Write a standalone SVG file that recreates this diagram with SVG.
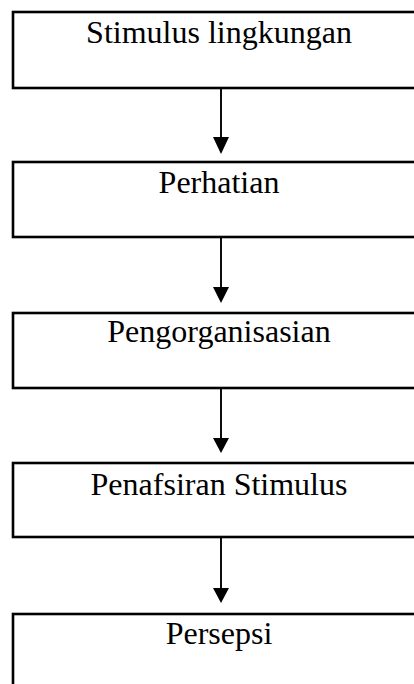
<svg xmlns="http://www.w3.org/2000/svg" width="414" height="684" viewBox="0 0 414 684">
<style>
.box{fill:#fff;stroke:#000;stroke-width:2.6}
.lbl{font-family:"Liberation Serif","Times New Roman",serif;font-size:32px;fill:#000;text-anchor:middle}
.con{stroke:#000;stroke-width:1.9;fill:none}
.head{fill:#000}
</style>
<rect width="414" height="684" fill="#fff"/>
<g id="node1"><rect class="box" x="13" y="12" width="410" height="76"/><text class="lbl" x="219" y="42.5">Stimulus lingkungan</text></g>
<g id="node2"><rect class="box" x="13" y="162" width="410" height="75"/><text class="lbl" x="219" y="192.5">Perhatian</text></g>
<g id="node3"><rect class="box" x="13" y="313" width="410" height="75"/><text class="lbl" x="219" y="341.5">Pengorganisasian</text></g>
<g id="node4"><rect class="box" x="13" y="463" width="410" height="74"/><text class="lbl" x="219" y="495">Penafsiran Stimulus</text></g>
<g id="node5"><rect class="box" x="13" y="614" width="410" height="90"/><text class="lbl" x="219" y="644">Persepsi</text></g>
<g id="connectors">
<line class="con" x1="221" y1="89" x2="221" y2="138"/><polygon class="head" points="213,137 229,137 221,154"/>
<line class="con" x1="221" y1="238" x2="221" y2="288"/><polygon class="head" points="213,287 229,287 221,303"/>
<line class="con" x1="221" y1="389" x2="221" y2="439"/><polygon class="head" points="213,438 229,438 221,453"/>
<line class="con" x1="221" y1="538" x2="221" y2="589"/><polygon class="head" points="213,588 229,588 221,603"/>
</g>
</svg>
